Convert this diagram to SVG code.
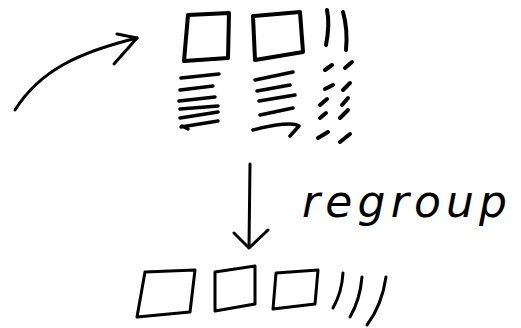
<svg xmlns="http://www.w3.org/2000/svg" width="521" height="328" viewBox="0 0 521 328">
<style>
.s{fill:none;stroke:#000;stroke-width:4;stroke-linecap:round;stroke-linejoin:round}
.m{fill:none;stroke:#000;stroke-width:3.5;stroke-linecap:round;stroke-linejoin:round}
.t{fill:none;stroke:#000;stroke-width:3;stroke-linecap:round;stroke-linejoin:round}
.lbl{font-family:"DejaVu Sans",sans-serif;font-style:italic;font-size:44px;fill:#000}
</style>
<rect width="521" height="328" fill="#fff"/>
<g id="conn">
<path class="t" d="M15,110 C40,70 80,52 137,38"/>
<path class="t" d="M117,34 L137,38 L114,64"/>
<path class="t" d="M250,164 L249,247"/>
<path class="t" d="M234,233 L249,248 L268,230"/>
</g>
<g id="source">
<path class="s" d="M188,15 L229,13 L228,58 L184,61 Z"/>
<path class="s" d="M253,16 L300,12 L303,52 L255,60 Z"/>
<path class="s" d="M327,10 Q330,25 326,45"/>
<path class="s" d="M343,12 Q348,30 346,50"/>
<path class="m" d="M181,78 L219,74 M180,90 L213,86 M179,101 L215,97 M180,109 L218,106 M180,118 L218,112 M181,127 L218,121 M182,126 L188,129"/>
<path class="m" d="M255,80 L293,72 M257,91 L290,85 M259,101 L295,95 M260,115 L293,108 M253,130 C275,124 295,122 299,126 L290,136"/>
<path class="s" d="M325,70 L332,65 M325,89 L333,85 M320,105 L327,99 M320,118 L326,113 M318,138 L328,132"/>
<path class="s" d="M345,68 L352,62 M343,90 L350,83 M342,105 L348,98 M340,118 L348,110 M340,142 L350,134"/>
</g>
<g id="label">
<text class="lbl" x="302" y="217" textLength="205" lengthAdjust="spacing">regroup</text>
</g>
<g id="result">
<path class="t" d="M145,272 L195,270 L190,312 L137,317 Z"/>
<path class="t" d="M215,272 L255,266 L255,304 L215,311 Z"/>
<path class="t" d="M276,273 L318,270 L315,304 L273,309 Z"/>
<path class="t" d="M343,273 Q342,292 333,308"/>
<path class="t" d="M362,277 Q360,300 350,317"/>
<path class="t" d="M386,277 Q382,305 367,325"/>
</g>
</svg>
